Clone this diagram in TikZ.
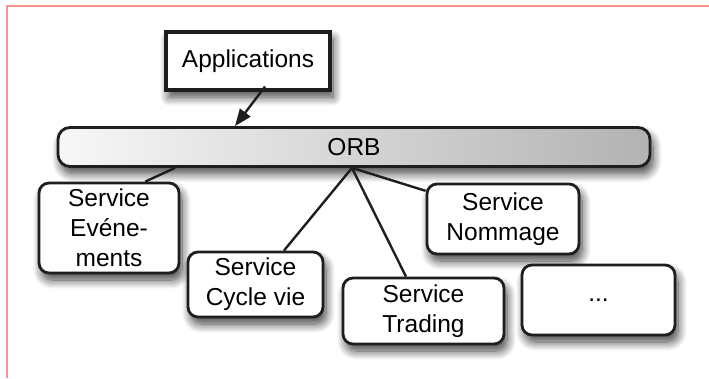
\documentclass[tikz,border=0pt]{standalone}
\usepackage{fontspec}
\setmainfont{Liberation Sans}
\usetikzlibrary{shadows.blur,arrows.meta,calc}

\definecolor{framered}{HTML}{F4968C}
\definecolor{inkdark}{HTML}{1E1E1E}

\tikzset{
  softshadow/.style={blur shadow={shadow xshift=3pt, shadow yshift=-7pt,
      shadow blur radius=9pt, shadow blur steps=12, shadow opacity=75}},
  servicebox/.style={draw=inkdark, line width=2.8pt, rounded corners=10pt,
      fill=white, inner sep=0pt, align=center, softshadow,
      font=\fontsize{24.5}{30}\selectfont},
  appbox/.style={draw=inkdark, line width=3.2pt, fill=white, inner sep=0pt,
      align=center, softshadow, font=\fontsize{24.5}{30}\selectfont},
  busbar/.style={draw=inkdark, line width=2.8pt, rounded corners=12pt,
      left color=black!3, right color=black!30, inner sep=0pt,
      softshadow, font=\fontsize{24.5}{30}\selectfont},
  link/.style={draw=inkdark, line width=2.4pt},
  callarrow/.style={draw=inkdark, line width=2.4pt,
      -{Triangle[length=17pt,width=13pt]}},
  framerule/.style={draw=framered, line width=1.6pt}
}

\begin{document}
\begin{tikzpicture}[x=1pt, y=-1pt]
  \useasboundingbox (0,0) rectangle (709,378);

  % page frame (top and left rules only)
  \coordinate (frameTL) at (7,6);
  \coordinate (frameTR) at (709,6);
  \coordinate (frameBL) at (7,378);
  \draw[framerule] (frameTR) -- (frameTL) -- (frameBL);

  % object request broker
  \node[busbar, minimum width=592pt, minimum height=39pt] (orb) at (354,147) {ORB};

  % client side
  \node[appbox, minimum width=164pt, minimum height=58pt] (apps) at (248,61) {Applications};

  % services
  \node[servicebox, minimum width=140pt, minimum height=90pt] (ev) at (109,228)
       {Service\\Evéne-\\ments};
  \node[servicebox, minimum width=135pt, minimum height=65pt] (cyc) at (255.5,284.5)
       {Service\\Cycle vie};
  \node[servicebox, minimum width=161pt, minimum height=66pt] (trad) at (423.5,311)
       {Service\\Trading};
  \node[servicebox, minimum width=152pt, minimum height=70pt] (nom) at (503,219)
       {Service\\Nommage};
  \node[servicebox, minimum width=153pt, minimum height=70pt] (more) at (598.5,300)
       {...};

  % connection points on the bus
  \coordinate (hub) at ($(orb.south)+(-2,0)$);
  \coordinate (evtap) at ($(orb.south)+(-179,0)$);
  \coordinate (apptail) at ($(apps.south)+(17,-5)$);
  \coordinate (orbin) at ($(orb.north)+(-119,0)$);

  % links
  \draw[link] (evtap) -- (ev.52);
  \draw[link] (hub) -- (cyc.50);
  \draw[link] (hub) -- (trad.117);
  \draw[link] (hub) -- (nom.160);
  \draw[callarrow] (apptail) -- (orbin);
\end{tikzpicture}
\end{document}
